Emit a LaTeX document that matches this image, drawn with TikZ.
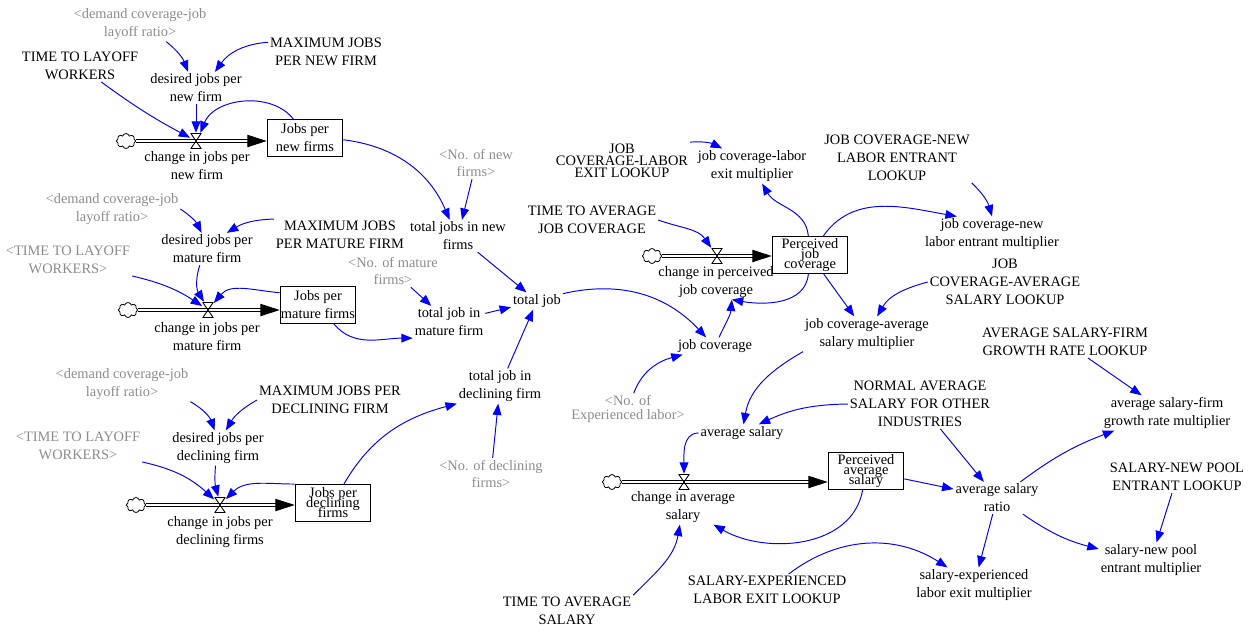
\documentclass[tikz,border=0pt]{standalone}
\usepackage{fontspec}
\setmainfont{Liberation Serif}
\usetikzlibrary{arrows.meta,shapes.symbols}
\definecolor{vblue}{RGB}{0,0,255}
\definecolor{vgray}{RGB}{140,140,140}

\begin{document}
\begin{tikzpicture}[x=0.02cm, y=-0.02cm,
    aux/.style={align=center, inner sep=1pt, font=\fontsize{8.2}{10.2}\selectfont},
    shadowvar/.style={aux, text=vgray},
    stock/.style={draw, line width=0.6pt, align=center, inner sep=0pt, minimum width=43pt, minimum height=21pt, font=\fontsize{8.2}{10.2}\selectfont},
    cloudsrc/.style={cloud, draw, cloud puffs=8, aspect=1.3, inner sep=0pt, minimum width=11pt, minimum height=8.5pt, line width=0.45pt},
    pipe/.style={double=white, double distance=1.5pt, line width=0.55pt, -{Triangle[length=11pt,width=7pt]}},
    valve/.style={inner sep=0pt, minimum width=6.3pt, minimum height=9pt, path picture={\draw[line width=0.5pt] ([shift={(0.25pt,-0.25pt)}]path picture bounding box.north west) -- ([shift={(-0.25pt,-0.25pt)}]path picture bounding box.north east) -- ([shift={(0.25pt,0.25pt)}]path picture bounding box.south west) -- ([shift={(-0.25pt,0.25pt)}]path picture bounding box.south east) -- cycle;}},
    conn/.style={vblue, line width=0.55pt, -{Triangle[length=6.5pt,width=5pt]}}
  ]
  \useasboundingbox (0,0) rectangle (1255,630);

  % jobs per new firms
  \node[shadowvar] (dcovA) at (140,24) {<demand coverage-job\\layoff ratio>};
  \node[aux] (maxnew) at (326,52) {MAXIMUM JOBS\\PER NEW FIRM};
  \node[aux] (layoffA) at (80,66) {TIME TO LAYOFF\\WORKERS};
  \node[aux] (djnew) at (196,88) {desired jobs per\\new firm};
  \node[cloudsrc] (cloudA) at (126,141) {};
  \node[stock] (stockA) at (305,138) {Jobs per\\new firms};
  \node[aux] (flowA) at (197,166) {change in jobs per\\new firm};

  % jobs per mature firms
  \node[shadowvar] (dcovB) at (112,209) {<demand coverage-job\\layoff ratio>};
  \node[aux] (maxmat) at (340,235) {MAXIMUM JOBS\\PER MATURE FIRM};
  \node[shadowvar] (layoffB) at (68,260) {<TIME TO LAYOFF\\WORKERS>};
  \node[aux] (djmat) at (207,249) {desired jobs per\\mature firm};
  \node[cloudsrc] (cloudB) at (128,310) {};
  \node[stock] (stockB) at (318,305) {Jobs per\\mature firms};
  \node[aux] (flowB) at (207,337) {change in jobs per\\mature firm};
  \node[shadowvar] (nomat) at (393,271) {<No. of mature\\firms>};
  \node[aux] (tjmat) at (449,322) {total job in\\mature firm};

  % jobs per declining firms
  \node[shadowvar] (dcovC) at (122,384) {<demand coverage-job\\layoff ratio>};
  \node[aux] (maxdec) at (330,400) {MAXIMUM JOBS PER\\DECLINING FIRM};
  \node[shadowvar] (layoffC) at (78,446) {<TIME TO LAYOFF\\WORKERS>};
  \node[aux] (djdec) at (218,448) {desired jobs per\\declining firm};
  \node[cloudsrc] (cloudC) at (136,505) {};
  \node[stock] (stockC) at (333,503) {Jobs per\\[-4.5pt]declining\\[-4.5pt]firms};
  \node[aux] (flowC) at (220,532) {change in jobs per\\declining firms};

  % total job
  \node[shadowvar] (nonew) at (476,163) {<No. of new\\firms>};
  \node[aux] (tjnew) at (458,236) {total jobs in new\\firms};
  \node[aux] (totjob) at (537,301) {total job};
  \node[aux] (tjdec) at (500,386) {total job in\\declining firm};
  \node[shadowvar] (nodec) at (491,474) {<No. of declining\\firms>};
  \node[aux] (jobcov) at (715,346) {job coverage};
  \node[shadowvar] (noexp) at (628,409) {<No. of\\[-2.2pt]Experienced labor>};

  % perceived job coverage
  \node[aux] (jclelook) at (622,161) {JOB\\[-3.4pt]COVERAGE-LABOR\\[-3.4pt]EXIT LOOKUP};
  \node[aux] (jclem) at (752,166) {job coverage-labor\\exit multiplier};
  \node[aux] (tajc) at (592,220) {TIME TO AVERAGE\\JOB COVERAGE};
  \node[cloudsrc] (cloudD) at (652,256) {};
  \node[stock] (stockD) at (810,255) {Perceived\\[-4.5pt]job\\[-4.5pt]coverage};
  \node[aux] (flowD) at (716,282) {change in perceived\\job coverage};
  \node[aux] (jcnelook) at (897,158) {JOB COVERAGE-NEW\\LABOR ENTRANT\\LOOKUP};
  \node[aux] (jcnem) at (992,234) {job coverage-new\\labor entrant multiplier};
  \node[aux] (jcaslook) at (1005,282) {JOB\\COVERAGE-AVERAGE\\SALARY LOOKUP};
  \node[aux] (jcasm) at (867,334) {job coverage-average\\salary multiplier};

  % perceived average salary
  \node[aux] (asfglook) at (1065,342) {AVERAGE SALARY-FIRM\\GROWTH RATE LOOKUP};
  \node[aux] (asfgm) at (1167,413) {average salary-firm\\growth rate multiplier};
  \node[aux] (normal) at (920,404) {NORMAL AVERAGE\\SALARY FOR OTHER\\INDUSTRIES};
  \node[aux] (avgsal) at (742,433) {average salary};
  \node[cloudsrc] (cloudE) at (612,482) {};
  \node[stock] (stockE) at (866,471) {Perceived\\[-4.5pt]average\\[-4.5pt]salary};
  \node[aux] (flowE) at (683,507) {change in average\\salary};
  \node[aux] (tas) at (567,611) {TIME TO AVERAGE\\SALARY};
  \node[aux] (selelook) at (767,590) {SALARY-EXPERIENCED\\LABOR EXIT LOOKUP};
  \node[aux] (asr) at (997,498) {average salary\\ratio};
  \node[aux] (snpelook) at (1177,477) {SALARY-NEW POOL\\ENTRANT LOOKUP};
  \node[aux] (snpem) at (1151,560) {salary-new pool\\entrant multiplier};
  \node[aux] (selem) at (974,585) {salary-experienced\\labor exit multiplier};

  % pipes and valves
  \draw[pipe] (cloudA.east) -- (cloudA.east -| stockA.west);
  \draw[pipe] (cloudB.east) -- (cloudB.east -| stockB.west);
  \draw[pipe] (cloudC.east) -- (cloudC.east -| stockC.west);
  \draw[pipe] (cloudD.east) -- (cloudD.east -| stockD.west);
  \draw[pipe] (cloudE.east) -- (cloudE.east -| stockE.west);
  \node[valve] (valveA) at (196,141) {};
  \node[valve] (valveB) at (208,310) {};
  \node[valve] (valveC) at (220,505) {};
  \node[valve] (valveD) at (717,256) {};
  \node[valve] (valveE) at (684,482) {};

  % links
  \draw[conn] (layoffA) to[bend right=4] (valveA);
  \draw[conn] (dcovA) to[bend left=15] (djnew);
  \draw[conn] (maxnew) to[bend right=25] (djnew);
  \draw[conn] (djnew) -- (valveA);
  \draw[conn] (stockA) to[bend right=60] (valveA);
  \draw[conn] (stockA) to[bend left=30] (tjnew);

  \draw[conn] (dcovB.east) to[bend left=15] (djmat);
  \draw[conn] (maxmat.north west) to[bend right=15] (djmat);
  \draw[conn] (layoffB.south east) to[bend left=10] (valveB);
  \draw[conn] (djmat) to[bend right=25] (valveB);
  \draw[conn] ([yshift=7pt]stockB.west) to[out=175,in=50] (valveB);
  \draw[conn] (stockB) to[out=-50,in=180] (tjmat.south west);
  \draw[conn] (nomat) -- (tjmat);

  \draw[conn] (dcovC.south east) to[bend left=20] (djdec);
  \draw[conn] (maxdec.west) to[bend right=15] (djdec);
  \draw[conn] (layoffC.south east) to[bend left=15] (valveC);
  \draw[conn] (djdec) to[bend right=10] (valveC);
  \draw[conn] (stockC.north west) to[out=180,in=45] (valveC);
  \draw[conn] (stockC) to[out=60,in=195] (tjdec.south west);

  \draw[conn] (nonew) -- (tjnew);
  \draw[conn] (tjnew) -- (totjob);
  \draw[conn] (tjmat) -- (totjob);
  \draw[conn] (tjdec) -- (totjob);
  \draw[conn] (nodec) -- (tjdec);
  \draw[conn] (totjob) to[bend left=30] (jobcov);
  \draw[conn] (noexp) to[out=70,in=195] (jobcov);
  \draw[conn] (jobcov) to[out=65,in=-95] ([xshift=9pt]flowD.south);

  \draw[conn] (jclelook.north east) to[bend left=15] ([xshift=-17pt]jclem.north);
  \draw[conn] (tajc.east) to[out=-20,in=125] (valveD);
  \draw[conn] (stockD) to[out=95,in=-60] (jclem);
  \draw[conn] (stockD) to[out=55,in=170] ([xshift=-20pt]jcnem.north);
  \draw[conn] (stockD) to[out=-95,in=-10] ([xshift=9pt]flowD.south);
  \draw[conn] (stockD) -- (jcasm);
  \draw[conn] (jcnelook.south east) to[bend left=15] (jcnem.north);
  \draw[conn] (jcaslook.west) to[out=195,in=60] (jcasm);
  \draw[conn] (jcasm.south west) to[out=210,in=80] (avgsal);

  \draw[conn] (normal.west) to[bend right=12] (avgsal);
  \draw[conn] (avgsal) to[out=180,in=90] (valveE);
  \draw[conn] (stockE) to[out=-100,in=-30] (flowE);
  \draw[conn] (tas.north east) to[out=45,in=-100] (flowE);
  \draw[conn] (selelook) to[bend left=35] (selem);
  \draw[conn] (stockE) -- (asr);
  \draw[conn] (normal) -- (asr);
  \draw[conn] (asr) to[bend left=8] (asfgm);
  \draw[conn] (asr) -- (selem);
  \draw[conn] (asr) to[bend right=10] (snpem);
  \draw[conn] (snpelook) -- (snpem);
  \draw[conn] (asfglook) -- (asfgm);
\end{tikzpicture}
\end{document}
